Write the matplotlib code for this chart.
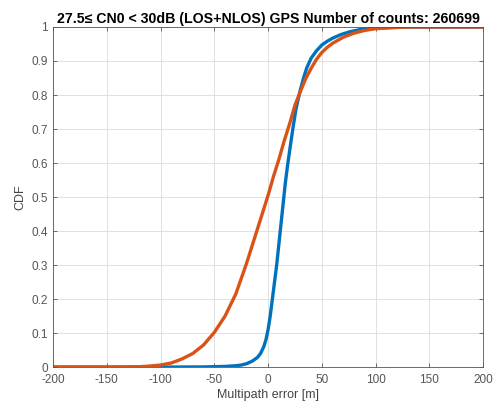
"""
CDF of multipath error, GPS, 27.5 <= CN0 < 30 dB
"""
import matplotlib
matplotlib.use("Agg")
import matplotlib.pyplot as plt

plt.rcParams['font.family'] = ['Liberation Sans', 'DejaVu Sans']
plt.rcParams['axes.unicode_minus'] = False

# blue curve (first series)
blue_x = [-200, -100, -60, -40, -30, -25, -20, -15, -10, -7, -4, -2, 0, 2, 4,
          6, 8, 10, 12, 14, 16, 18, 20, 23, 26, 30, 33, 36, 40, 45, 50, 55,
          60, 68, 76, 85, 95, 110, 130, 200]
blue_cdf = [0, 0, 0.0005, 0.002, 0.004, 0.006, 0.01, 0.017, 0.028, 0.04, 0.06,
            0.08, 0.11, 0.15, 0.2, 0.25, 0.3, 0.36, 0.42, 0.48, 0.54, 0.59,
            0.635, 0.7, 0.76, 0.815, 0.85, 0.88, 0.908, 0.93, 0.947, 0.958,
            0.967, 0.978, 0.986, 0.992, 0.996, 0.998, 1, 1]

# orange curve (second series)
orange_x = [-200, -150, -120, -110, -100, -90, -80, -70, -60, -50, -40, -30,
            -20, -10, 0, 5, 10, 15, 20, 25, 30, 35, 40, 45, 50, 55, 60, 70,
            80, 90, 100, 115, 130, 200]
orange_cdf = [0, 0, 0.001, 0.003, 0.006, 0.012, 0.024, 0.04, 0.065, 0.102,
              0.15, 0.215, 0.305, 0.405, 0.505, 0.56, 0.61, 0.665, 0.715, 0.77,
              0.81, 0.848, 0.878, 0.905, 0.925, 0.94, 0.952, 0.97, 0.982,
              0.99, 0.995, 0.998, 1, 1]

xticks = [-200, -150, -100, -50, 0, 50, 100, 150, 200]
yticks = [0, 0.1, 0.2, 0.3, 0.4, 0.5, 0.6, 0.7, 0.8, 0.9, 1]
ytick_labels = ['0', '0.1', '0.2', '0.3', '0.4', '0.5', '0.6', '0.7', '0.8', '0.9', '1']

fig = plt.figure(figsize=(4.93, 4.12), dpi=100)
ax = fig.add_axes([0.1075, 0.109, 0.8725, 0.8255])

ax.plot(blue_x, blue_cdf, color='#0072BD', lw=2.4, solid_joinstyle='round')
ax.plot(orange_x, orange_cdf, color='#D95319', lw=2.4, solid_joinstyle='round')

ax.set_xlim(-200, 200)
ax.set_ylim(0, 1)
ax.set_xticks(xticks)
ax.set_yticks(yticks)
ax.set_yticklabels(ytick_labels)
ax.grid(True, color='#dcdcdc', lw=0.6)
ax.tick_params(direction='in', top=True, right=True, labelsize=8.5,
               colors='#555555', length=3, width=0.6)
ax.tick_params(axis='x', pad=5)
for s in ax.spines.values():
    s.set_color('#555555')
    s.set_linewidth(0.6)

ax.set_xlabel('Multipath error [m]', fontsize=9, color='#444444', labelpad=2)
ax.set_ylabel('CDF', fontsize=9, color='#444444', labelpad=4)
ax.set_title('27.5\u2264 CN0 < 30dB (LOS+NLOS) GPS Number of counts: 260699',
             fontsize=10.2, fontweight='bold', pad=3)

fig.savefig('out.png', dpi=100)
